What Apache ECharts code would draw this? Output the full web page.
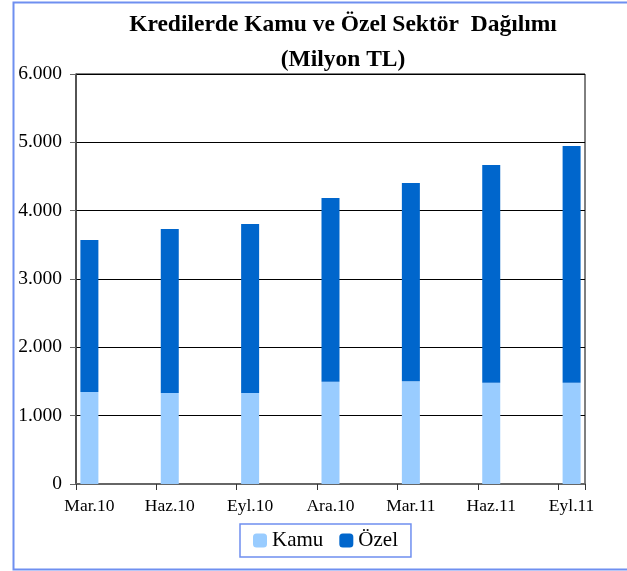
<!DOCTYPE html>
<html>
<head>
<meta charset="utf-8">
<script src="https://cdn.jsdelivr.net/npm/echarts@6/dist/echarts.min.js"></script>
<style>
  html, body { margin: 0; padding: 0; background: #fff; }
  #chart { width: 627px; height: 571px; }
</style>
</head>
<body>
<div id="chart"></div>
<script>
  // quarterly data, drawn on a monthly axis like the original date axis
  const categories = ['Mar.10', 'Haz.10', 'Eyl.10', 'Ara.10', 'Mar.11', 'Haz.11', 'Eyl.11'];
  const kamu = [1345, 1330, 1330, 1495, 1505, 1480, 1480];
  const ozel = [2226, 2402, 2475, 2691, 2900, 3189, 3467];
  const yTicks = [0, 1000, 2000, 3000, 4000, 5000, 6000];

  const step = 3; // months between quarters
  const slots = (categories.length - 1) * step + 1;
  const axisData = [];
  const kamuData = [];
  const ozelData = [];
  for (let i = 0; i < slots; i++) {
    const q = i % step === 0 ? i / step : -1;
    axisData.push(q >= 0 ? categories[q] : '');
    kamuData.push(q >= 0 ? kamu[q] : '-');
    ozelData.push(q >= 0 ? ozel[q] : '-');
  }

  const fmt = v => String(v).replace(/\B(?=(\d{3})+(?!\d))/g, '.');
  const font = 'Liberation Serif';

  const chart = echarts.init(document.getElementById('chart'));
  chart.setOption({
    animation: false,
    textStyle: { fontFamily: font },
    title: {
      text: 'Kredilerde Kamu ve Özel Sektör  Dağılımı\n(Milyon TL)',
      left: 338,
      top: 2,
      textAlign: 'center',
      textStyle: { fontFamily: font, fontSize: 23.5, fontWeight: 'bold', color: '#000', lineHeight: 35, align: 'center' }
    },
    graphic: [{
      type: 'rect',
      shape: { x: 13.5, y: 2.5, width: 640, height: 567 },
      style: { fill: 'none', stroke: '#6f8ff0', lineWidth: 2 },
      silent: true
    }],
    legend: {
      left: 240,
      top: 524,
      padding: [6, 13, 6, 13],
      borderColor: '#6f8ff0',
      borderWidth: 1.5,
      itemWidth: 14,
      itemHeight: 14,
      itemGap: 16,
      textStyle: { fontFamily: font, fontSize: 21, color: '#000' },
      data: ['Kamu', 'Özel']
    },
    grid: {
      left: 76, right: 42, top: 74, bottom: 87,
      show: true, borderColor: '#000', borderWidth: 1
    },
    xAxis: {
      type: 'category',
      data: axisData,
      boundaryGap: true,
      axisLine: { lineStyle: { color: '#666', width: 2 } },
      axisTick: { show: true, length: 6, interval: 2, lineStyle: { color: '#333', width: 1 } },
      axisLabel: { interval: 0, margin: 13, fontSize: 17.5, color: '#000', fontFamily: font }
    },
    yAxis: {
      type: 'value',
      min: yTicks[0],
      max: yTicks[yTicks.length - 1],
      interval: 1000,
      axisLine: { show: true, lineStyle: { color: '#444', width: 1.5 } },
      axisTick: { show: true, length: 6, lineStyle: { color: '#666' } },
      axisLabel: { margin: 14, fontSize: 19.5, color: '#000', fontFamily: font, formatter: fmt },
      splitLine: { lineStyle: { color: '#000', width: 1 } }
    },
    series: [{
      name: 'Kamu',
      type: 'bar',
      stack: 'total',
      barWidth: 18,
      itemStyle: { color: '#99ccff' },
      data: kamuData
    }, {
      name: 'Özel',
      type: 'bar',
      stack: 'total',
      barWidth: 18,
      itemStyle: { color: '#0066cc' },
      data: ozelData
    }]
  });
</script>
</body>
</html>
